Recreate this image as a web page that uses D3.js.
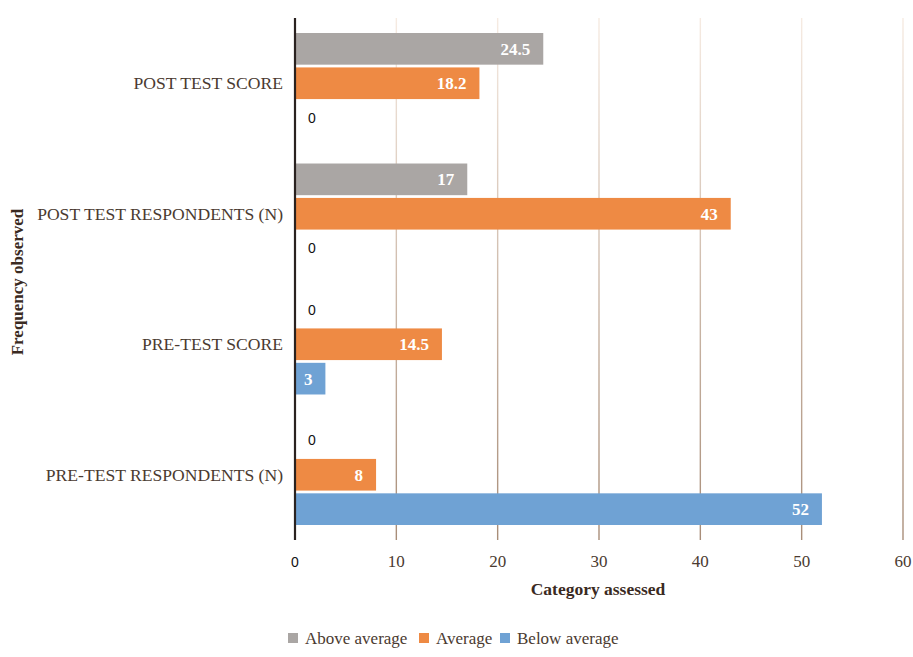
<!DOCTYPE html>
<html><head><meta charset="utf-8">
<script src="https://cdn.jsdelivr.net/npm/d3@7"></script>
<style>body{margin:0;background:#fff}</style>
</head><body>
<svg id="c" width="913" height="657"></svg>
<script>
const categories = ["POST TEST SCORE","POST TEST RESPONDENTS (N)","PRE-TEST SCORE","PRE-TEST RESPONDENTS (N)"];
const seriesNames = ["Above average","Average","Below average"];
const aboveAverage = [24.5, 17, 0, 0];
const average = [18.2, 43, 14.5, 8];
const belowAverage = [0, 0, 3, 52];
const xTicks = [0,10,20,30,40,50,60];
const colors = ["#aaa6a4","#ee8a44","#6fa2d4"];

(function(){
const svg = d3.select("#c");
const L = 295, R = 903, T = 18, B = 540;
const x = d3.scaleLinear().domain([0,60]).range([L,R]);
const y = d3.scaleBand().domain(categories).range([T,B]).paddingInner(0.23).paddingOuter(0.115);
const sub = d3.scaleBand().domain(seriesNames).range([0,y.bandwidth()]).paddingInner(0.08);

const defs = svg.append("defs");
const g = defs.append("linearGradient").attr("id","gg").attr("gradientUnits","userSpaceOnUse")
  .attr("x1",0).attr("x2",0).attr("y1",T).attr("y2",B);
g.append("stop").attr("offset",0).attr("stop-color","#f6ebe2");
g.append("stop").attr("offset",1).attr("stop-color","#a88d78");

svg.append("g").selectAll("line").data(xTicks.slice(1)).join("line")
  .attr("x1",d=>x(d)).attr("x2",d=>x(d)).attr("y1",T).attr("y2",B)
  .attr("stroke","url(#gg)").attr("stroke-width",1.4);

const data = [aboveAverage, average, belowAverage];
const serif = "Liberation Serif, Times New Roman, serif";
const sans = "Liberation Sans, Arial, sans-serif";
categories.forEach((c,i)=>{
  seriesNames.forEach((s,j)=>{
    const v = data[j][i];
    const yy = y(c)+sub(s);
    if (v>0){
      svg.append("rect").attr("x",x(0)).attr("y",yy).attr("width",x(v)-x(0)).attr("height",sub.bandwidth())
        .attr("fill",colors[j]);
      svg.append("text").attr("x",x(v)-13).attr("y",yy+sub.bandwidth()/2).attr("dy","0.35em")
        .attr("text-anchor","end").attr("fill","#fff").attr("font-weight","bold")
        .attr("font-family",serif).attr("font-size",17).text(v);
    } else {
      svg.append("text").attr("x",x(0)+13).attr("y",yy+sub.bandwidth()/2).attr("dy","0.35em")
        .attr("text-anchor","start").attr("fill","#111")
        .attr("font-family",sans).attr("font-size",14).text(v);
    }
  });
  svg.append("text").attr("x",283).attr("y",y(c)+y.bandwidth()/2).attr("dy","0.35em")
    .attr("text-anchor","end").attr("fill","#4a3a30").attr("font-family",serif).attr("font-size",17.6).text(c);
});

svg.append("line").attr("x1",x(0)).attr("x2",x(0)).attr("y1",T).attr("y2",B)
  .attr("stroke","#2a2220").attr("stroke-width",2.2);

svg.append("g").selectAll("text").data(xTicks).join("text")
  .attr("x",d=>x(d)).attr("y",567).attr("text-anchor","middle")
  .attr("font-family",d=>d===0?sans:serif)
  .attr("font-size",d=>d===0?14:17).attr("fill",d=>d===0?"#111":"#4a3a30").text(d=>d);

svg.append("text").attr("x",598).attr("y",595).attr("text-anchor","middle")
  .attr("font-family",serif).attr("font-weight","bold").attr("font-size",17.5).attr("fill","#3a2a22")
  .text("Category assessed");
svg.append("text").attr("transform","translate(23,282) rotate(-90)").attr("text-anchor","middle")
  .attr("font-family",serif).attr("font-weight","bold").attr("font-size",17).attr("fill","#3a2a22")
  .text("Frequency observed");

const leg = [{n:seriesNames[0],x:288},{n:seriesNames[1],x:419},{n:seriesNames[2],x:500}];
leg.forEach((l,i)=>{
  svg.append("rect").attr("x",l.x).attr("y",633).attr("width",10).attr("height",10).attr("fill",colors[i]);
  svg.append("text").attr("x",l.x+17).attr("y",644).attr("font-family",serif).attr("font-size",17)
    .attr("fill","#4a3a30").text(l.n);
});
})();
</script>
</body></html>
